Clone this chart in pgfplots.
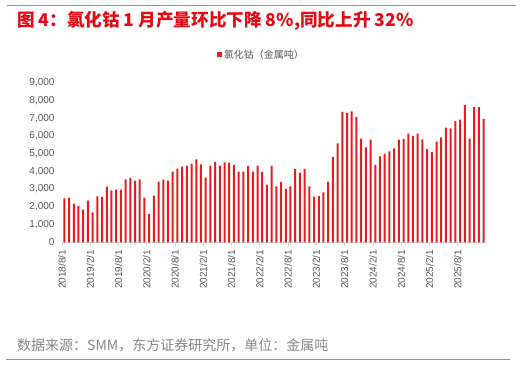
\documentclass[border=0pt]{standalone}
\usepackage{pgfplots}
\pgfplotsset{compat=1.18}
\usepackage{pgfplotstable}
\usepackage{fontspec}
\setmainfont{Liberation Sans}
\newfontfamily\cjk{Noto Sans CJK SC}
\definecolor{barred}{RGB}{232,28,28}
\definecolor{titlered}{RGB}{230,10,20}
\definecolor{linered}{RGB}{236,110,110}
\definecolor{txtgray}{RGB}{89,89,89}
\definecolor{srcgray}{RGB}{135,135,135}
\pgfplotstableread{
i v
0 2480
1 2520
2 2180
3 2050
4 1840
5 2350
6 1690
7 2590
8 2560
9 3140
10 2930
11 2970
12 2970
13 3550
14 3630
15 3480
16 3550
17 2520
18 1600
19 2630
20 3420
21 3530
22 3480
23 3990
24 4150
25 4270
26 4310
27 4440
28 4680
29 4400
30 3650
31 4320
32 4530
33 4320
34 4510
35 4490
36 4360
37 3990
38 3990
39 4290
40 3990
41 4320
42 3970
43 3250
44 4310
45 3160
46 3400
47 3010
48 3160
49 4140
50 3930
51 4140
52 3160
53 2580
54 2610
55 2820
56 3420
57 4810
58 5580
59 7350
60 7290
61 7390
62 7070
63 5850
64 5360
65 5790
66 4360
67 4850
68 5000
69 5130
70 5300
71 5790
72 5830
73 6130
74 6000
75 6130
76 5810
77 5260
78 5080
79 5680
80 5920
81 6470
82 6430
83 6840
84 6920
85 7750
86 5850
87 7640
88 7620
89 6960
}\datatable
\begin{document}
\begin{tikzpicture}
\useasboundingbox (0pt,0pt) rectangle (522pt,366pt);
\draw[linered, line width=1.2pt] (7pt,360.3pt) -- (516pt,360.3pt);
\node[anchor=west, inner sep=0pt, text=titlered, font=\cjk\bfseries\fontsize{17.6}{20}\selectfont] at (17pt,345.5pt) {图 4：氯化钴 1 月产量环比下降 8\%,同比上升 32\%};
\begin{axis}[
  at={(62pt,123.7pt)}, anchor=south west,
  width=424pt, height=159.6pt, scale only axis,
  xmin=-0.5, xmax=89.5, ymin=0, ymax=9000,
  ybar, bar width=2pt,
  axis x line*=bottom, axis y line*=left,
  x axis line style={draw=gray!35, line width=0.8pt},
  y axis line style={draw=none},
  xtick={-0.5,5.5,...,83.5},
  xticklabels={2018/8/1,2019/2/1,2019/8/1,2020/2/1,2020/8/1,2021/2/1,2021/8/1,2022/2/1,2022/8/1,2023/2/1,2023/8/1,2024/2/1,2024/8/1,2025/2/1,2025/8/1},
  xticklabel style={rotate=90, anchor=east, font=\fontsize{10}{12}\selectfont, text=txtgray},
  xtick style={draw=gray!35, line width=0.8pt},
  tick align=outside, major tick length=4pt,
  ytick={0,1000,...,9000},
  ytick style={draw=none},
  yticklabel style={font=\fontsize{10}{12}\selectfont, text=txtgray},
  scaled y ticks=false,
  /pgf/number format/assume math mode=true,
  /pgf/number format/1000 sep={,},
  legend style={at={(0.47,1.1736)}, anchor=center, draw=none, fill=none,
    font=\cjk\fontsize{10}{12}\selectfont, text=txtgray, inner sep=0pt},
  legend image code/.code={\fill[barred] (0pt,-2.5pt) rectangle (5pt,2.5pt);},
]
\addplot[fill=barred, draw=none] table[x=i, y=v] {\datatable};
\addlegendentry{氯化钴（金属吨）}
\end{axis}
\node[anchor=west, inner sep=0pt, text=srcgray, font=\cjk\fontsize{14}{16}\selectfont] at (17pt,21pt) {数据来源：SMM，东方证券研究所，单位：金属吨};
\draw[linered, line width=1.2pt] (6pt,6.7pt) -- (510pt,6.7pt);
\end{tikzpicture}
\end{document}
